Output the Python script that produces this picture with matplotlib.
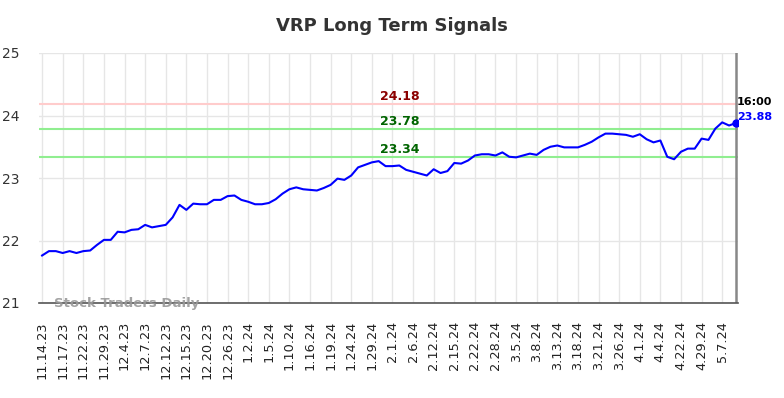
import matplotlib
matplotlib.use("Agg")
import matplotlib.pyplot as plt

values = [21.76, 21.83, 21.83, 21.80, 21.83, 21.80, 21.83, 21.84, 21.93, 22.01,
          22.01, 22.14, 22.13, 22.17, 22.18, 22.25, 22.21, 22.23, 22.25, 22.37,
          22.57, 22.49, 22.59, 22.58, 22.58, 22.65, 22.65, 22.71, 22.72, 22.65,
          22.62, 22.58, 22.58, 22.60, 22.66, 22.75, 22.82, 22.85, 22.82, 22.81,
          22.80, 22.84, 22.89, 22.99, 22.97, 23.04, 23.17, 23.21, 23.25, 23.27,
          23.19, 23.19, 23.20, 23.13, 23.10, 23.07, 23.04, 23.14, 23.08, 23.11,
          23.24, 23.23, 23.28, 23.36, 23.38, 23.38, 23.36, 23.41, 23.34, 23.33,
          23.36, 23.39, 23.37, 23.45, 23.50, 23.52, 23.49, 23.49, 23.49, 23.53,
          23.58, 23.65, 23.71, 23.71, 23.70, 23.69, 23.66, 23.70, 23.62, 23.57,
          23.60, 23.34, 23.30, 23.42, 23.47, 23.47, 23.63, 23.61, 23.79, 23.89,
          23.84, 23.88]

tick_labels = ["11.14.23", "11.17.23", "11.22.23", "11.29.23", "12.4.23", "12.7.23",
               "12.12.23", "12.15.23", "12.20.23", "12.26.23", "1.2.24", "1.5.24",
               "1.10.24", "1.16.24", "1.19.24", "1.24.24", "1.29.24", "2.1.24",
               "2.6.24", "2.12.24", "2.15.24", "2.22.24", "2.28.24", "3.5.24",
               "3.8.24", "3.13.24", "3.18.24", "3.21.24", "3.26.24", "4.1.24",
               "4.4.24", "4.22.24", "4.29.24", "5.7.24"]
tick_step = 3

resistance = 24.18
support_levels = [23.78, 23.34]
last_time = "16:00"

fig = plt.figure(figsize=(7.84, 3.98), dpi=100)
ax = fig.add_axes([39 / 784, 1 - 303 / 398, (738 - 39) / 784, (303 - 53) / 398])

x = list(range(len(values)))
ax.set_xlim(-0.45, len(values) - 1 + 0.3)
ax.set_ylim(21, 25)

ticks = [i * tick_step for i in range(len(tick_labels))]
ax.set_xticks(ticks)
ax.set_xticklabels(tick_labels, rotation=90, fontsize=9.3, color="#222222")
ax.set_yticks([21, 22, 23, 24, 25])
ax.set_yticklabels(["21", "22", "23", "24", "25"], fontsize=10, color="#333333")
ax.tick_params(axis="x", length=0, pad=13)
ax.tick_params(axis="y", length=0, pad=14)

ax.grid(True, color="#e6e6e6", linewidth=1)
ax.set_axisbelow(True)
for s in ["top", "left", "right"]:
    ax.spines[s].set_visible(False)
ax.spines["bottom"].set_color("#555555")
ax.spines["bottom"].set_linewidth(1.2)

ax.axhline(resistance, color="#ffcccc", linewidth=1.5, zorder=1)
for s in support_levels:
    ax.axhline(s, color="#90ee90", linewidth=1.5, zorder=1)

mid = 52
ax.text(mid, resistance + 0.12, f"{resistance:.2f}", color="#8b0000", fontsize=9,
        fontweight="bold", ha="center", va="center")
for s in support_levels:
    ax.text(mid, s + 0.12, f"{s:.2f}", color="#006400", fontsize=9,
            fontweight="bold", ha="center", va="center")

ax.axvline(len(values) - 1, color="#888888", linewidth=1.8, zorder=2)
ax.plot(x, values, color="#0000ff", linewidth=1.5, zorder=3)
ax.plot([x[-1]], [values[-1]], "o", color="#0000ff", markersize=5, zorder=4)

ax.text(x[-1] + 0.1, values[-1] + 0.33, last_time, color="#000000", fontsize=8,
        fontweight="bold", ha="left", va="center", clip_on=False)
ax.text(x[-1] + 0.1, values[-1] + 0.10, f"{values[-1]:.2f}", color="#0000ff", fontsize=8,
        fontweight="bold", ha="left", va="center", clip_on=False)

ax.text(1.7, 21.0, "Stock Traders Daily", color="#999999", fontsize=9.5,
        fontweight="bold", ha="left", va="center", alpha=0.9)

fig.text(0.5, 1 - 26 / 398, "VRP Long Term Signals", ha="center", va="center",
         fontsize=13, fontweight="bold", color="#333333")

fig.savefig("out.png", dpi=100)
